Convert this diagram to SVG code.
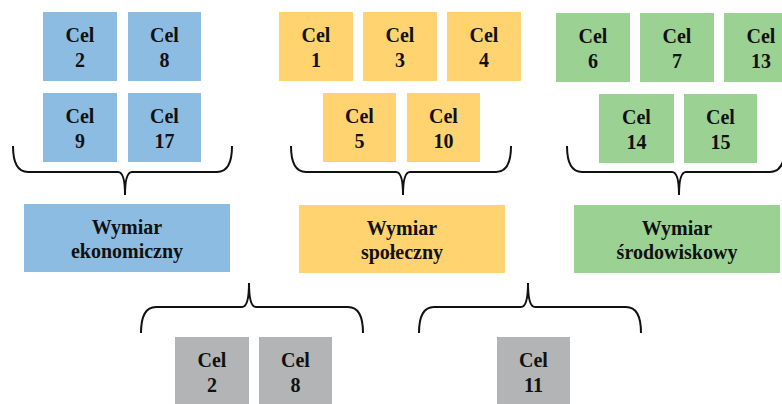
<svg xmlns="http://www.w3.org/2000/svg" width="782" height="404" viewBox="0 0 782 404">
<style>
.b{fill:#8DBCE2}.y{fill:#FFD470}.g{fill:#9CD194}.k{fill:#B2B4B5}
.br{fill:none;stroke:#111;stroke-width:2}
.t{font-family:"Liberation Serif","Times New Roman",serif;font-weight:bold;font-size:20px;fill:#111;text-anchor:middle}
</style>
<rect width="782" height="404" fill="#fff"/>
<g id="c2"><rect class="b" x="43" y="12" width="74" height="69"/><text class="t" x="80" y="42">Cel</text><text class="t" x="80" y="67">2</text></g>
<g id="c8"><rect class="b" x="128" y="12" width="73" height="69"/><text class="t" x="164.5" y="42">Cel</text><text class="t" x="164.5" y="67">8</text></g>
<g id="c9"><rect class="b" x="43" y="93" width="74" height="69"/><text class="t" x="80" y="123">Cel</text><text class="t" x="80" y="148">9</text></g>
<g id="c17"><rect class="b" x="128" y="93" width="73" height="69"/><text class="t" x="164.5" y="123">Cel</text><text class="t" x="164.5" y="148">17</text></g>
<g id="c1"><rect class="y" x="279" y="12" width="74" height="69"/><text class="t" x="316" y="42">Cel</text><text class="t" x="316" y="67">1</text></g>
<g id="c3"><rect class="y" x="363" y="12" width="74" height="69"/><text class="t" x="400" y="42">Cel</text><text class="t" x="400" y="67">3</text></g>
<g id="c4"><rect class="y" x="447" y="12" width="74" height="69"/><text class="t" x="484" y="42">Cel</text><text class="t" x="484" y="67">4</text></g>
<g id="c5"><rect class="y" x="323" y="93" width="73" height="69"/><text class="t" x="359.5" y="123">Cel</text><text class="t" x="359.5" y="148">5</text></g>
<g id="c10"><rect class="y" x="407" y="93" width="73" height="69"/><text class="t" x="443.5" y="123">Cel</text><text class="t" x="443.5" y="148">10</text></g>
<g id="c6"><rect class="g" x="556" y="13" width="74" height="69"/><text class="t" x="593" y="43">Cel</text><text class="t" x="593" y="68">6</text></g>
<g id="c7"><rect class="g" x="640" y="13" width="74" height="69"/><text class="t" x="677" y="43">Cel</text><text class="t" x="677" y="68">7</text></g>
<g id="c13"><rect class="g" x="724" y="13" width="58" height="69"/><text class="t" x="761" y="43">Cel</text><text class="t" x="761" y="68">13</text></g>
<g id="c14"><rect class="g" x="599" y="94" width="75" height="69"/><text class="t" x="636.5" y="124">Cel</text><text class="t" x="636.5" y="149">14</text></g>
<g id="c15"><rect class="g" x="684" y="94" width="73" height="69"/><text class="t" x="720.5" y="124">Cel</text><text class="t" x="720.5" y="149">15</text></g>
<g id="wEko"><rect class="b" x="24" y="204" width="206" height="68"/><text class="t" x="127" y="234">Wymiar</text><text class="t" x="127" y="258">ekonomiczny</text></g>
<g id="wSpo"><rect class="y" x="299" y="205" width="206" height="68"/><text class="t" x="402" y="235">Wymiar</text><text class="t" x="402" y="259">społeczny</text></g>
<g id="wSro"><rect class="g" x="574" y="205" width="206" height="68"/><text class="t" x="677" y="235">Wymiar</text><text class="t" x="677" y="259">środowiskowy</text></g>
<g id="g2"><rect class="k" x="175" y="337" width="74" height="67"/><text class="t" x="212" y="367">Cel</text><text class="t" x="212" y="392">2</text></g>
<g id="g8"><rect class="k" x="259" y="337" width="73" height="67"/><text class="t" x="295.5" y="367">Cel</text><text class="t" x="295.5" y="392">8</text></g>
<g id="g11"><rect class="k" x="497" y="337" width="73" height="67"/><text class="t" x="533.5" y="367">Cel</text><text class="t" x="533.5" y="392">11</text></g>
<g id="connectors">
<path class="br" d="M13,146 Q13,172 28,172 L118,172 Q125,172 125,195 Q125,172 132,172 L217,172 Q232,172 232,146"/>
<path class="br" d="M291,146 Q291,172 306,172 L396,172 Q403,172 403,195 Q403,172 410,172 L496,172 Q511,172 511,146"/>
<path class="br" d="M567,146 Q567,172 582,172 L672,172 Q679,172 679,195 Q679,172 686,172 L770,172 Q785,172 785,146"/>
<path class="br" d="M141,333 Q141,307 156,307 L242,307 Q249,307 249,283 Q249,307 256,307 L348,307 Q363,307 363,333"/>
<path class="br" d="M419,333 Q419,307 434,307 L521,307 Q528,307 528,283 Q528,307 535,307 L626,307 Q641,307 641,333"/>
</g>
</svg>
